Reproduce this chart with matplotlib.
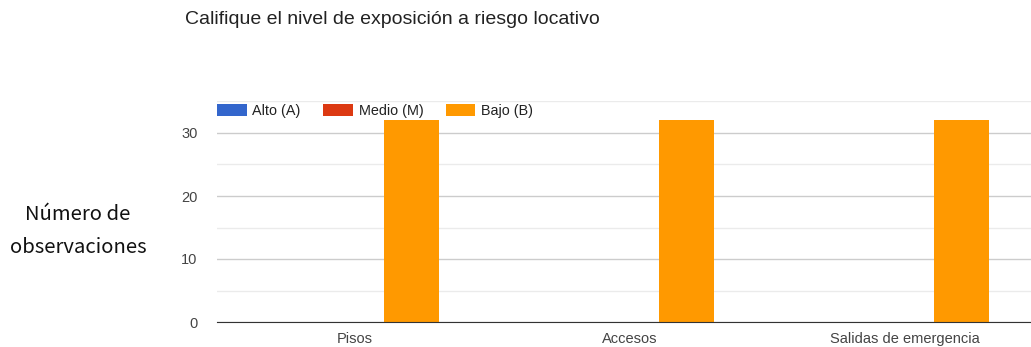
import numpy as np
import matplotlib.pyplot as plt
from matplotlib.ticker import MultipleLocator

categories = ['Pisos', 'Accesos', 'Salidas de emergencia']
series = ['Alto (A)', 'Medio (M)', 'Bajo (B)']
alto = [0, 0, 0]
medio = [0, 0, 0]
bajo = [32, 32, 32]
colors = ['#3366cc', '#dc3912', '#ff9900']

plt.rcParams['font.family'] = ['Liberation Sans', 'DejaVu Sans']

fig = plt.figure(figsize=(10.31, 3.47), dpi=100)
ax = fig.add_axes([217 / 1031, 25 / 347, 825.5 / 1031, 220.5 / 347])

x = np.arange(len(categories))
w = 0.2
for i, (vals, name, c) in enumerate(zip([alto, medio, bajo], series, colors)):
    ax.bar(x + (i - 1) * w + 0.006, vals, w, color=c, label=name, zorder=3)

ax.set_xlim(-0.5, 2.5)
ax.set_ylim(0, 35)
ax.yaxis.set_major_locator(MultipleLocator(10))
ax.yaxis.set_minor_locator(MultipleLocator(5))
ax.grid(axis='y', which='major', color='#cccccc', lw=1, zorder=0)
ax.grid(axis='y', which='minor', color='#ebebeb', lw=1, zorder=0)
ax.set_xticks(x)
ax.set_xticklabels(categories)
ax.tick_params(axis='both', which='both', length=0, labelsize=10.5, labelcolor='#444444')
ax.tick_params(axis='y', pad=14)
ax.tick_params(axis='x', pad=7)
for s in ['top', 'right', 'left']:
    ax.spines[s].set_visible(False)
ax.spines['bottom'].set_color('#333333')
ax.spines['bottom'].set_zorder(4)

leg = ax.legend(loc='upper left', bbox_to_anchor=(0, 0.99), ncol=3, frameon=False,
                fontsize=10.4, handlelength=2.05, handleheight=0.9, columnspacing=1.55,
                handletextpad=0.4, borderaxespad=0, borderpad=0)
for t in leg.get_texts():
    t.set_color('#222222')

fig.text(185 / 1031, 1 - 19 / 347, 'Califique el nivel de exposición a riesgo locativo',
         fontsize=14, color='#222222', va='center', ha='left')
fig.text(78 / 1031, 1 - 231 / 347, 'Número de\nobservaciones', fontsize=14.6, color='#111111',
         ha='center', va='center', linespacing=1.8, family=['Noto Sans CJK KR', 'DejaVu Sans'])

fig.savefig('out.png', dpi=100)
